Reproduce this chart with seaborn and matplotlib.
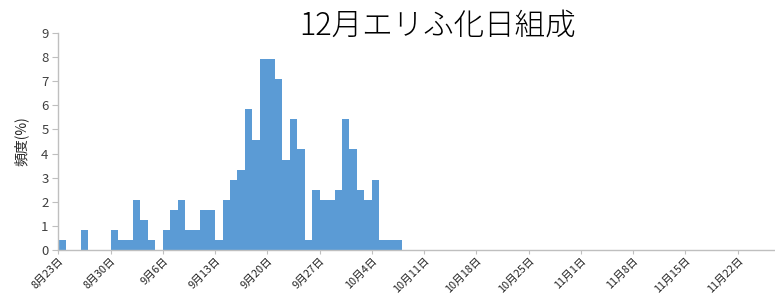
import numpy as np
import pandas as pd
import matplotlib
matplotlib.use("Agg")
import matplotlib.pyplot as plt
import seaborn as sns

# Data: daily hatch-date composition (%) starting 8月23日
values = [0.42, 0, 0, 0.83, 0, 0, 0, 0.83, 0.42, 0.42,
          2.08, 1.25, 0.42, 0, 0.83, 1.67, 2.08, 0.83, 0.83, 1.67,
          1.67, 0.42, 2.08, 2.92, 3.33, 5.83, 4.58, 7.92, 7.92, 7.08,
          3.75, 5.42, 4.17, 0.42, 2.5, 2.08, 2.08, 2.5, 5.42, 4.17,
          2.5, 2.08, 2.92, 0.42, 0.42, 0.42]
day_index = [float(i) + 0.5 for i in range(len(values))]
tick_labels = ["8月23日", "8月30日", "9月6日", "9月13日", "9月20日", "9月27日",
               "10月4日", "10月11日", "10月18日", "10月25日", "11月1日",
               "11月8日", "11月15日", "11月22日"]
title = "12月エリふ化日組成"
ylabel = "頻度(%)"
n_days_axis = 96

sns.set_theme(style="white")
plt.rcParams['font.family'] = ['Noto Sans CJK JP', 'DejaVu Sans']

df = pd.DataFrame({"day": day_index, "pct": values})

fig = plt.figure(figsize=(7.75, 2.96), dpi=100)
ax = fig.add_axes([0.0752, 0.1554, 0.9248, 0.733])

sns.histplot(data=df, x="day", weights="pct", binwidth=1, binrange=(0, len(values)),
             color="#5B9BD5", alpha=1.0, linewidth=0, ax=ax)

ax.set_xlim(0, n_days_axis)
ax.set_ylim(0, 9)
ax.set_yticks(range(0, 10))
ax.set_xticks([7 * i for i in range(len(tick_labels))])
ax.set_xticklabels(tick_labels, rotation=45, ha="right", rotation_mode="anchor",
                   fontsize=7.8, color="#262626")
ax.tick_params(axis="y", labelsize=9.5, colors="#404040", length=4, width=0.8,
               direction="out", left=True, pad=3)
ax.tick_params(axis="x", length=3, width=0.8, direction="out", bottom=True,
               color="#BFBFBF", pad=1)
ax.tick_params(axis="y", color="#BFBFBF")
ax.set_xlabel("")
ax.set_ylabel(ylabel, fontsize=10, color="#262626", labelpad=9)

for s in ["top", "right"]:
    ax.spines[s].set_visible(False)
for s in ["left", "bottom"]:
    ax.spines[s].set_color("#BFBFBF")
    ax.spines[s].set_linewidth(1.0)

fig.text(0.564, 0.915, title, ha="center", va="center", fontsize=22,
         fontweight="light", color="black")

fig.savefig("out.png", dpi=100)
